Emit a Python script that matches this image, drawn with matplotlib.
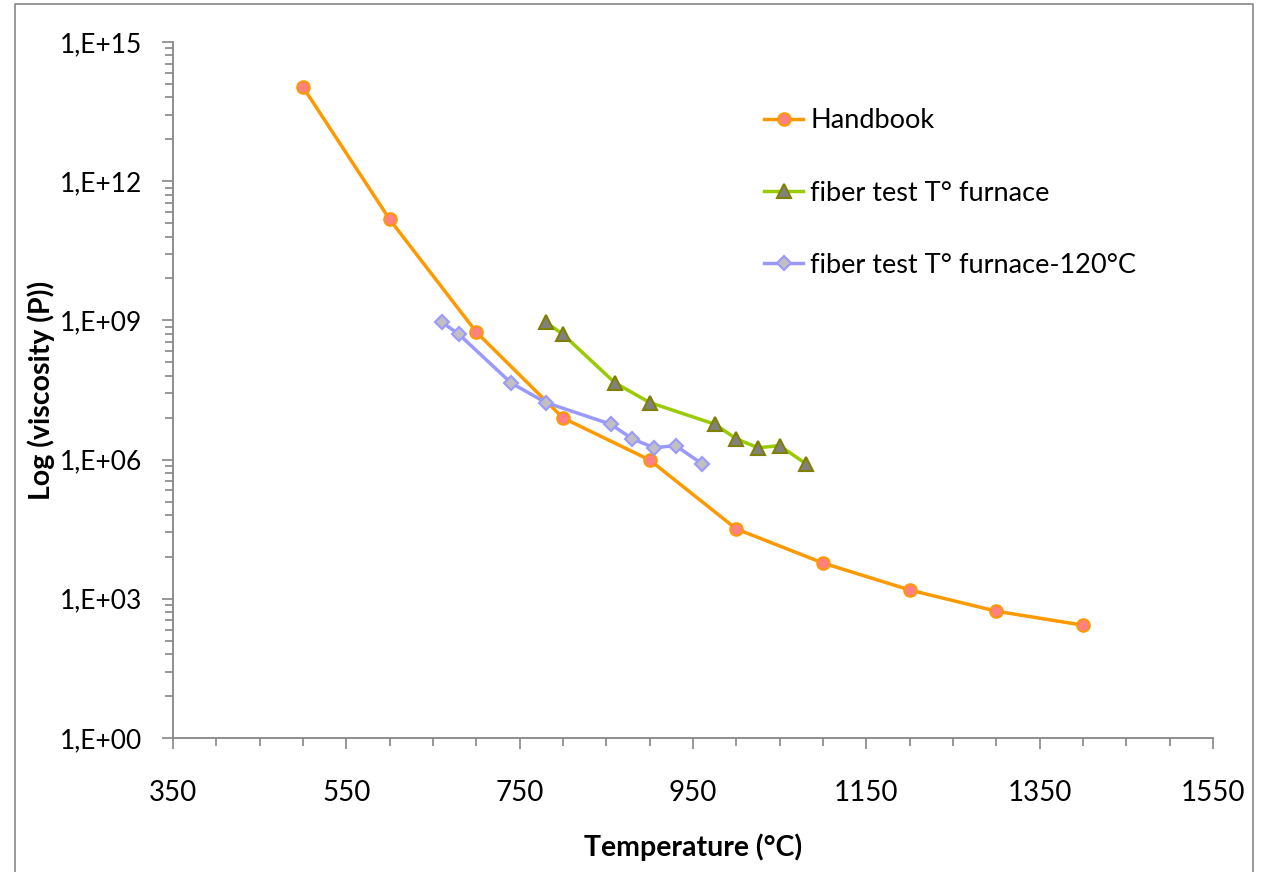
import numpy as np
import matplotlib.pyplot as plt
from matplotlib.ticker import FixedLocator, FuncFormatter, MultipleLocator
from matplotlib.lines import Line2D

plt.rcParams['font.family'] = ['Lato', 'DejaVu Sans']

# Data
temp_handbook = [500, 600, 700, 800, 900, 1000, 1100, 1200, 1300, 1400]
visc_handbook = [1.07e14, 1.5e11, 5.6e8, 7.9e6, 9.8e5, 3.2e4, 5.9e3, 1.55e3, 5.4e2, 2.7e2]

temp_furnace = [780, 800, 860, 900, 975, 1000, 1025, 1050, 1080]
visc_furnace = [9.2e8, 5.0e8, 4.5e7, 1.7e7, 5.8e6, 2.8e6, 1.8e6, 2.0e6, 8.2e5]

temp_furnace_120 = [660, 680, 740, 780, 855, 880, 905, 930, 960]
visc_furnace_120 = [9.2e8, 5.0e8, 4.5e7, 1.7e7, 5.8e6, 2.8e6, 1.8e6, 2.0e6, 8.2e5]

x_ticks = [350, 550, 750, 950, 1150, 1350, 1550]

fig = plt.figure(figsize=(12.68, 8.72), dpi=100)
ax = fig.add_axes([173/1268, 1-738/872, 1040/1268, 696/872])

ax.plot(temp_handbook, visc_handbook, color='#FF9900', lw=2.5, marker='o', ms=9,
        mfc='#FF8080', mec='#FF9900', mew=1.5, label='Handbook')
ax.plot(temp_furnace, visc_furnace, color='#99CC00', lw=2.5, marker='^', ms=10,
        mfc='#808080', mec='#808000', mew=1.5, label='fiber test T° furnace')
ax.plot(temp_furnace_120, visc_furnace_120, color='#9999FF', lw=2.5, marker='D', ms=7.5,
        mfc='#C0C0C0', mec='#9999FF', mew=1.5, label='fiber test T° furnace-120°C')

ax.set_yscale('log')
ax.set_ylim(1, 1e15)
ax.set_xlim(350, 1550)

# Excel style log base 1000 axis
majors = [10.0**e for e in range(0, 16, 3)]
minors = [10.0**(e + 3*np.log10(k)) for e in range(0, 15, 3) for k in range(2, 10)]
ax.yaxis.set_major_locator(FixedLocator(majors))
ax.yaxis.set_minor_locator(FixedLocator(minors))
ax.yaxis.set_major_formatter(FuncFormatter(lambda v, p: '1,E+%02d' % int(round(np.log10(v)))))
ax.yaxis.set_minor_formatter(FuncFormatter(lambda v, p: ''))

ax.xaxis.set_major_locator(FixedLocator(x_ticks))
ax.xaxis.set_minor_locator(MultipleLocator(50))

for s in ['top', 'right']:
    ax.spines[s].set_visible(False)
for s in ['left', 'bottom']:
    ax.spines[s].set_color('#868686')
    ax.spines[s].set_linewidth(1.3)

ax.tick_params(axis='both', which='major', length=8, width=1.2, color='#868686',
               labelsize=20)
ax.tick_params(axis='y', which='major', labelsize=19, pad=14)
ax.tick_params(axis='both', which='minor', length=5.5, width=1.2, color='#868686')
ax.tick_params(axis='x', which='major', pad=22)

ax.set_xlabel('Temperature (°C)', fontsize=20.5, fontweight='bold', labelpad=20)
ax.set_ylabel('Log (viscosity (P))', fontsize=20.5, fontweight='bold', labelpad=4)

ax.legend(loc='upper left', bbox_to_anchor=(0.545, 0.94), frameon=False,
          fontsize=19.5, labelspacing=1.75, handlelength=1.45, handletextpad=0.25)

# outer chart frame
fig.add_artist(Line2D([15/1268, 15/1268, 1253/1268, 1253/1268],
                      [0, 1-4/872, 1-4/872, 0], transform=fig.transFigure,
                      color='#888888', lw=1.2))

fig.savefig('out.png', dpi=100)
